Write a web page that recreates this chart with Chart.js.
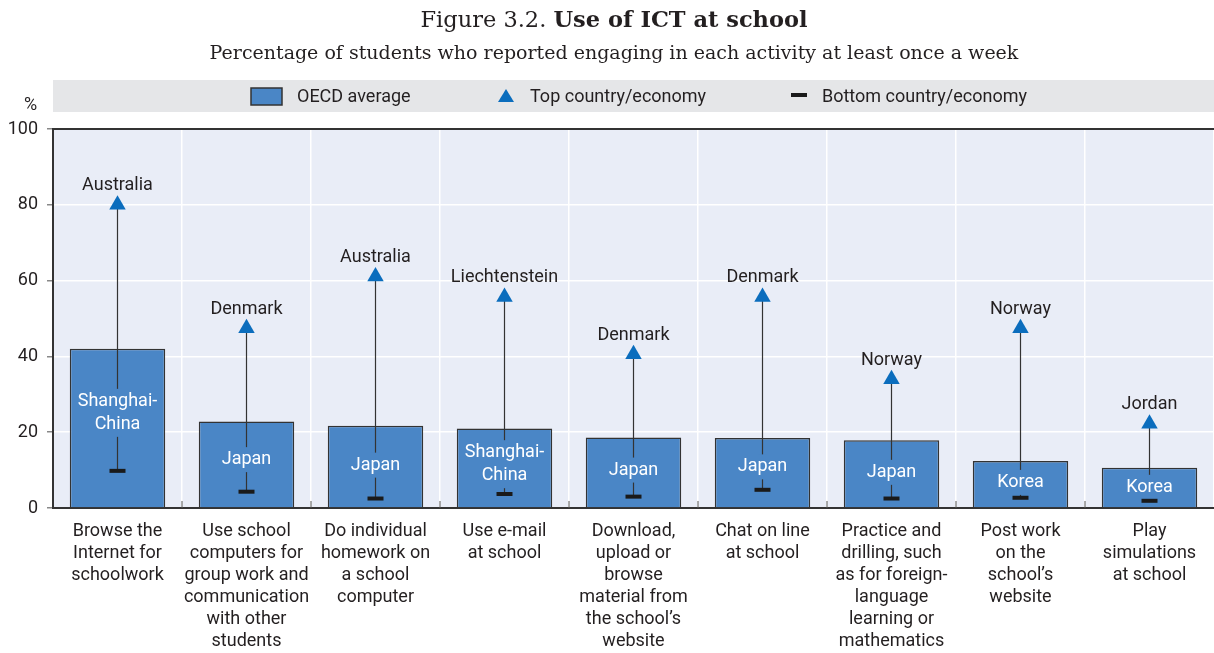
<!DOCTYPE html>
<html lang="en">
<head>
<meta charset="UTF-8">
<title>Use of ICT at school</title>
<script src="https://cdn.jsdelivr.net/npm/chart.js"></script>
<style>
  html, body { margin: 0; padding: 0; background: #fff; overflow: hidden; }
  #wrap { position: relative; width: 1214px; height: 653px; }
  canvas { display: block; }
</style>
</head>
<body>
<div id="wrap"><canvas id="ictChart" width="1214" height="653"></canvas></div>
<script>
// data
const activities = [
    ['Browse the', 'Internet for', 'schoolwork'],
    ['Use school', 'computers for', 'group work and', 'communication', 'with other', 'students'],
    ['Do individual', 'homework on', 'a school', 'computer'],
    ['Use e-mail', 'at school'],
    ['Download,', 'upload or', 'browse', 'material from', 'the school\u2019s', 'website'],
    ['Chat on line', 'at school'],
    ['Practice and', 'drilling, such', 'as for foreign-', 'language', 'learning or', 'mathematics'],
    ['Post work', 'on the', 'school\u2019s', 'website'],
    ['Play', 'simulations', 'at school']
];
const oecdAverage = [42, 22.8, 21.7, 21.0, 18.6, 18.5, 17.9, 12.4, 10.6];
const topValues = [80, 47.4, 61.1, 55.7, 40.6, 55.7, 34.0, 47.4, 22.2];
const topCountries = ['Australia', 'Denmark', 'Australia', 'Liechtenstein', 'Denmark', 'Denmark', 'Norway', 'Norway', 'Jordan'];
const bottomValues = [9.8, 4.3, 2.5, 3.7, 3.0, 4.8, 2.5, 2.7, 1.9];
const bottomCountries = [['Shanghai-', 'China'], ['Japan'], ['Japan'], ['Shanghai-', 'China'], ['Japan'], ['Japan'], ['Japan'], ['Korea'], ['Korea']];
const yTicks = [0, 20, 40, 60, 80, 100];

const SANS = "Roboto, 'Liberation Sans', sans-serif";
const SERIF = "'DejaVu Serif', 'Liberation Serif', serif";
const FS = 18;
const BAR_BLUE = '#4a86c6';
const TRI_BLUE = '#0b6dbd';
const TEXT = '#231f20';

// title, legend band, plot background
const frame = {
    id: 'frame',
    beforeDraw(chart) {
        const { ctx, chartArea: a } = chart;
        ctx.save();
        ctx.fillStyle = '#e9edf7';
        ctx.fillRect(a.left, a.top, a.right - a.left, a.bottom - a.top);

        // title with a light and a bold part
        const t1 = 'Figure 3.2. ', t2 = 'Use of ICT at school';
        ctx.textBaseline = 'middle';
        ctx.font = '22.5px ' + SERIF;
        const w1 = ctx.measureText(t1).width;
        ctx.font = 'bold 22.5px ' + SERIF;
        const w2 = ctx.measureText(t2).width;
        const x = 614 - (w1 + w2) / 2;
        ctx.fillStyle = TEXT;
        ctx.textAlign = 'left';
        ctx.font = '22.5px ' + SERIF;
        ctx.fillText(t1, x, 21);
        ctx.font = 'bold 22.5px ' + SERIF;
        ctx.fillText(t2, x + w1, 21);

        ctx.textAlign = 'center';
        ctx.font = '19px ' + SERIF;
        ctx.fillText('Percentage of students who reported engaging in each activity at least once a week', 614, 54);

        // legend band
        ctx.fillStyle = '#e5e6e8';
        ctx.fillRect(a.left, 80, a.right - a.left, 32);
        ctx.font = FS + 'px ' + SANS;
        ctx.textAlign = 'left';
        ctx.fillStyle = BAR_BLUE;
        ctx.fillRect(251, 88, 31, 17);
        ctx.strokeStyle = '#333';
        ctx.lineWidth = 1.5;
        ctx.strokeRect(251, 88, 31, 17);
        ctx.fillStyle = TEXT;
        ctx.fillText('OECD average', 297, 97);

        ctx.fillStyle = TRI_BLUE;
        ctx.beginPath();
        ctx.moveTo(506, 89);
        ctx.lineTo(514, 102);
        ctx.lineTo(498, 102);
        ctx.closePath();
        ctx.fill();
        ctx.fillStyle = TEXT;
        ctx.fillText('Top country/economy', 530, 97);

        ctx.fillStyle = '#1a1a1a';
        ctx.fillRect(791, 93, 16, 4);
        ctx.fillStyle = TEXT;
        ctx.fillText('Bottom country/economy', 822, 97);

        ctx.fillText('%', 24, 105);
        ctx.restore();
    },
    afterDatasetDraw(chart, args) {
        if (args.index !== 0) return;
        const { ctx, chartArea: a, scales: { x, y } } = chart;
        const bars = chart.getDatasetMeta(0).data;
        ctx.save();
        // dark top border and small inner ticks at the category edges
        ctx.strokeStyle = '#333';
        ctx.lineWidth = 2;
        ctx.beginPath();
        ctx.moveTo(a.left, a.top);
        ctx.lineTo(a.right, a.top);
        ctx.stroke();
        const step = (a.right - a.left) / activities.length;
        ctx.lineWidth = 1;
        ctx.strokeStyle = '#555';
        for (let i = 1; i < activities.length; i++) {
            const bx = a.left + i * step;
            ctx.beginPath();
            ctx.moveTo(bx, a.bottom);
            ctx.lineTo(bx, a.bottom - 7);
            ctx.stroke();
        }

        activities.forEach((_, i) => {
            const cx = x.getPixelForValue(i);
            const yTop = y.getPixelForValue(topValues[i]);
            const yBot = y.getPixelForValue(bottomValues[i]);
            ctx.strokeStyle = '#333';
            ctx.lineWidth = 1.2;
            ctx.beginPath();
            ctx.moveTo(cx, yTop);
            ctx.lineTo(cx, yBot);
            ctx.stroke();

            // bottom country written inside the bar, cutting the line
            const lines = bottomCountries[i];
            const lh = 23;
            const mid = (bars[i].y + yBot) / 2 + 3;
            const top = mid - lines.length * lh / 2;
            ctx.fillStyle = BAR_BLUE;
            ctx.fillRect(cx - 4, top - 1, 8, lines.length * lh + 2);
            ctx.fillStyle = '#ffffff';
            ctx.font = FS + 'px ' + SANS;
            ctx.textAlign = 'center';
            ctx.textBaseline = 'middle';
            lines.forEach((s, k) => ctx.fillText(s, cx, top + lh / 2 + k * lh));

            // top country above the triangle
            ctx.fillStyle = TEXT;
            ctx.fillText(topCountries[i], cx, yTop - 19);
        });
        ctx.restore();
    }
};

const ctx = document.getElementById('ictChart').getContext('2d');
const chart = new Chart(ctx, {
    data: {
        labels: activities,
        datasets: [
            {
                type: 'bar',
                label: 'OECD average',
                data: oecdAverage,
                backgroundColor: BAR_BLUE,
                borderColor: '#333',
                borderWidth: 1.5,
                barPercentage: 0.74,
                categoryPercentage: 1,
                order: 3
            },
            {
                type: 'line',
                label: 'Bottom country/economy',
                data: bottomValues,
                showLine: false,
                pointStyle: 'line',
                pointRadius: 8,
                borderColor: '#1a1a1a',
                borderWidth: 4,
                order: 2
            },
            {
                type: 'line',
                label: 'Top country/economy',
                data: topValues,
                showLine: false,
                pointStyle: 'triangle',
                pointRadius: 9.5,
                backgroundColor: TRI_BLUE,
                borderColor: TRI_BLUE,
                borderWidth: 0,
                order: 1
            }
        ]
    },
    options: {
        responsive: false,
        animation: false,
        devicePixelRatio: 1,
        layout: { autoPadding: false, padding: { top: 129, right: 0, bottom: 0, left: 0 } },
        plugins: {
            legend: { display: false },
            tooltip: { enabled: false }
        },
        scales: {
            x: {
                afterFit: s => { s.height = 145; s.paddingLeft = 0; s.paddingRight = 0; },
                grid: { color: '#ffffff', lineWidth: 1.5, drawTicks: false, offset: true },
                border: { color: '#333', width: 2 },
                ticks: {
                    font: { family: SANS, size: FS, lineHeight: 1.23 },
                    color: TEXT,
                    padding: 12,
                    maxRotation: 0,
                    autoSkip: false
                }
            },
            y: {
                min: 0,
                max: 100,
                afterBuildTicks: s => { s.ticks = yTicks.map(v => ({ value: v })); },
                afterFit: s => { s.width = 53; },
                grid: { color: '#ffffff', lineWidth: 1.5, tickColor: '#888', tickLength: 6 },
                border: { color: '#333', width: 2 },
                ticks: {
                    font: { family: SANS, size: FS },
                    color: TEXT,
                    padding: 9
                }
            }
        }
    },
    plugins: [frame]
});
</script>
</body>
</html>
